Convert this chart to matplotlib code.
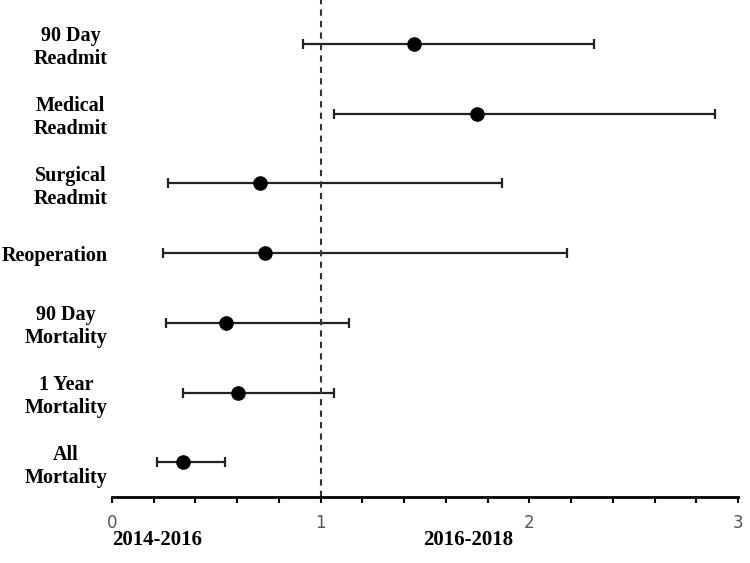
import matplotlib.pyplot as plt
from matplotlib.ticker import MultipleLocator

# odds ratios with 95% CI, top row first
outcomes = ["90 Day\nReadmit", "Medical\nReadmit", "Surgical\nReadmit", "Reoperation",
            "90 Day\nMortality", "1 Year\nMortality", "All\nMortality"]
odds = [1.45, 1.75, 0.71, 0.735, 0.546, 0.604, 0.34]
ci_low = [0.915, 1.065, 0.27, 0.244, 0.259, 0.343, 0.215]
ci_high = [2.31, 2.89, 1.87, 2.18, 1.136, 1.067, 0.541]
period_labels = ["2014-2016", "2016-2018"]
period_x = [0, 1.49]

ypos = list(range(len(outcomes) - 1, -1, -1))
err_lo = [o - l for o, l in zip(odds, ci_low)]
err_hi = [h - o for o, h in zip(odds, ci_high)]

fig = plt.figure(figsize=(7.5, 5.63), dpi=100)
ax = fig.add_axes([0.149, 0.117, 0.835, 0.883])

ax.errorbar(odds, ypos, xerr=[err_lo, err_hi], fmt="o", color="black",
            ecolor="#222222", elinewidth=1.6, capsize=3.5, capthick=1.6,
            markersize=9.5)
ax.axvline(1, color="#333333", linestyle=(0, (3, 2.5)), linewidth=1.5)

ax.set_xlim(0, 3)
ax.set_ylim(-0.5, 6.63)
ax.xaxis.set_major_locator(MultipleLocator(1))
ax.xaxis.set_minor_locator(MultipleLocator(0.2))
ax.tick_params(axis="x", which="both", length=4, width=1.5, colors="black",
               labelcolor="#555555", labelsize=12, pad=8)

ax.set_yticks(ypos)
ax.set_yticklabels(outcomes, fontfamily="Liberation Serif", fontweight="bold",
                   fontsize=14.5, multialignment="center")
ax.tick_params(axis="y", length=0, pad=3)

for s in ["top", "right", "left"]:
    ax.spines[s].set_visible(False)
ax.spines["bottom"].set_linewidth(2)

for lab, x in zip(period_labels, period_x):
    ax.text(x, -0.087, lab, transform=ax.get_xaxis_transform(), ha="left", va="center",
            fontfamily="Liberation Serif", fontweight="bold", fontsize=15)

fig.savefig("out.png", dpi=100)
